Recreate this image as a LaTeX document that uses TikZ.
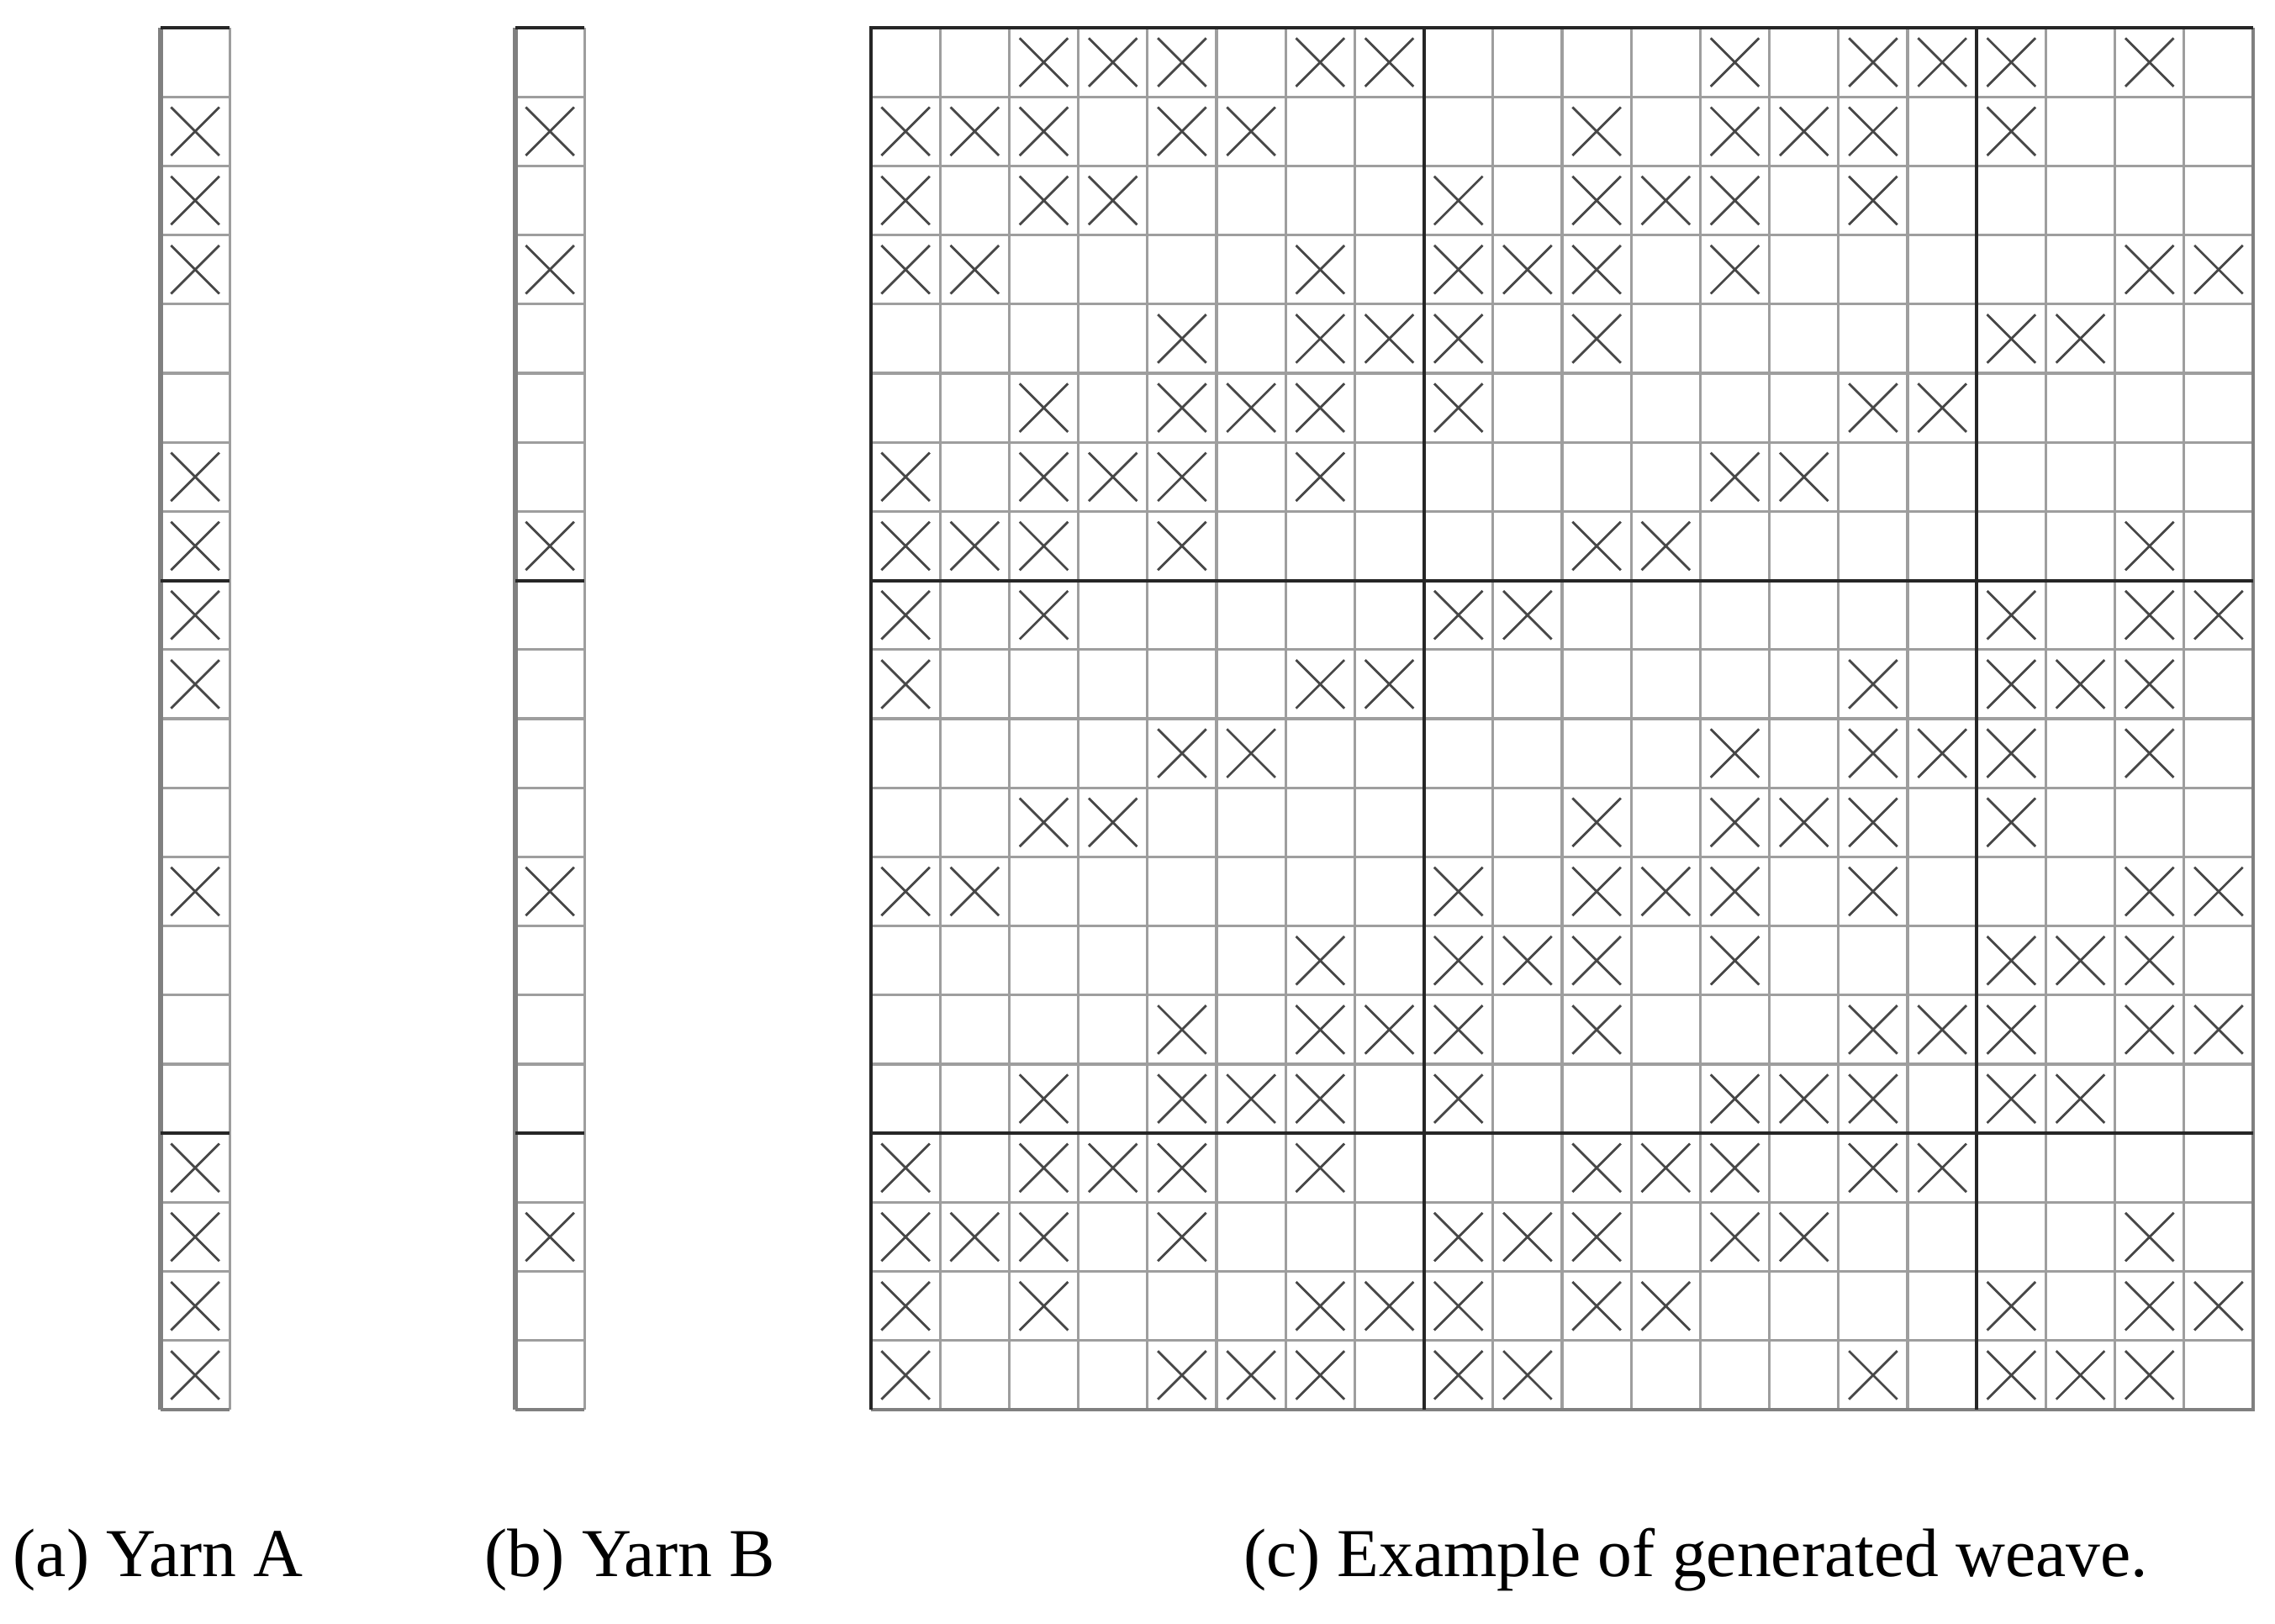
\documentclass[tikz,border=0pt]{standalone}
\usepackage{fontspec}
\setmainfont{Liberation Serif}
\definecolor{gridgray}{gray}{0.62}
\definecolor{edgegray}{gray}{0.5}
\definecolor{bargray}{gray}{0.15}
\definecolor{crossgray}{gray}{0.28}

\begin{document}
\begin{tikzpicture}[x=1cm, y=-1cm,
    cell/.style={draw=gridgray, line width=0.9pt},
    rim/.style={draw=edgegray, line width=1pt},
    bar/.style={draw=bargray, line width=1.1pt},
    cross/.style={draw=crossgray, line width=0.8pt},
    caption/.style={font=\fontsize{23.2}{27}\selectfont, anchor=base west, inner sep=0pt}]
  \useasboundingbox (0,0) rectangle (27.06,19.31);

  \begin{scope}[shift={(10.36,0.33)}, x=0.822cm, y=-0.822cm]
    \foreach \i in {1,...,19} {
      \draw[cell] (\i,0) -- (\i,20);
      \draw[cell] (0,\i) -- (20,\i);
    }
    \draw[rim] (20,0) -- (20,20) -- (0,20);
    \foreach \i in {8,16} {
      \draw[bar] (\i,0) -- (\i,20);
      \draw[bar] (0,\i) -- (20,\i);
    }
    \draw[bar] (0,20) -- (0,0) -- (20,0);
    \foreach \r/\cl in {1/{3,4,5,7,8,13,15,16,17,19}, 2/{1,2,3,5,6,11,13,14,15,17},
        3/{1,3,4,9,11,12,13,15}, 4/{1,2,7,9,10,11,13,19,20},
        5/{5,7,8,9,11,17,18}, 6/{3,5,6,7,9,15,16},
        7/{1,3,4,5,7,13,14}, 8/{1,2,3,5,11,12,19},
        9/{1,3,9,10,17,19,20}, 10/{1,7,8,15,17,18,19},
        11/{5,6,13,15,16,17,19}, 12/{3,4,11,13,14,15,17},
        13/{1,2,9,11,12,13,15,19,20}, 14/{7,9,10,11,13,17,18,19},
        15/{5,7,8,9,11,15,16,17,19,20}, 16/{3,5,6,7,9,13,14,15,17,18},
        17/{1,3,4,5,7,11,12,13,15,16}, 18/{1,2,3,5,9,10,11,13,14,19},
        19/{1,3,7,8,9,11,12,17,19,20}, 20/{1,5,6,7,9,10,15,17,18,19}} {
      \foreach \c in \cl
        \draw[cross] (\c-0.85,\r-0.85) -- (\c-0.15,\r-0.15)
                     (\c-0.85,\r-0.15) -- (\c-0.15,\r-0.85);
    }
  \end{scope}

  \foreach \xo/\on in {1.91/{2,3,4,7,8,9,10,13,17,18,19,20}, 6.13/{2,4,8,13,18}} {
    \begin{scope}[shift={(\xo,0.33)}, x=0.822cm, y=-0.822cm]
      \foreach \i in {1,...,19}
        \draw[cell] (0,\i) -- (1,\i);
      \draw[cell] (1,0) -- (1,20);
      \draw[rim] (1,20) -- (0,20);
      \draw[rim, line width=1.5pt] (0,0) -- (0,20);
      \foreach \i in {0,8,16}
        \draw[bar] (0,\i) -- (1,\i);
      \foreach \r in \on
        \draw[cross] (0.15,\r-0.85) -- (0.85,\r-0.15)
                     (0.15,\r-0.15) -- (0.85,\r-0.85);
    \end{scope}
  }

  \node[caption] (capA) at (0.15,18.756) {(a) Yarn A};
  \node[caption] (capB) at (5.76,18.756) {(b) Yarn B};
  \node[caption] (capC) at (14.79,18.756) {(c) Example of generated weave.};
\end{tikzpicture}
\end{document}
